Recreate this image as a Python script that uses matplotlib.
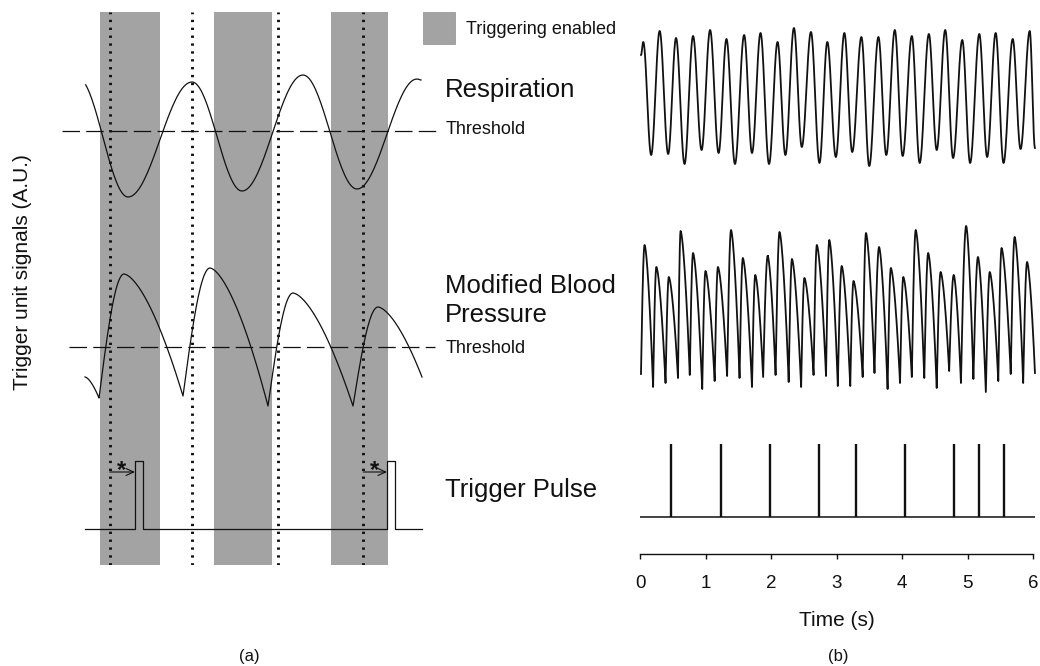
import numpy as np
import matplotlib.pyplot as plt
from matplotlib.patches import Rectangle

plt.rcParams['font.family'] = ['Liberation Sans', 'DejaVu Sans']

W, H = 1040, 666

# ---------------- panel (a): schematic (arbitrary time / amplitude units) ----
band_start = [0.153, 1.287, 2.46]
band_end = [0.747, 1.87, 3.027]
dotted_t = [0.247, 1.073, 1.93, 2.783]

# knots (extrema) of the respiration trace, first knot lies just before the drawn range
resp_a_t = [-0.07, 0.43, 1.07, 1.57, 2.18, 2.72, 3.32, 3.36]
resp_a_v = [5.3, -6.6, 4.9, -6.0, 5.6, -5.8, 5.2, 5.1]

bp_a_t = [0.0, 0.14, 0.39, 0.98, 1.25, 1.83, 2.08, 2.68, 2.93, 3.37]
bp_a_v = [-3.0, -5.1, 7.3, -4.9, 7.9, -5.9, 5.4, -5.9, 4.0, -3.0]

pulse_a_t = [0.50, 3.02]
pulse_a_w = 0.075
pulse_a_h = 6.8
trace_a_end = 3.37

# ---------------- panel (b): recorded signals, time in s ----------------------
resp_b_start = (0.015, 11.5)
resp_b_end = (6.03, 2.2)
resp_b_peak_t = [0.05, 0.30, 0.55, 0.81, 1.07, 1.32, 1.59, 1.84, 2.10, 2.35, 2.61, 2.86,
                 3.12, 3.38, 3.64, 3.89, 4.15, 4.41, 4.66, 4.92, 5.18, 5.43, 5.69, 5.95]
resp_b_peak_v = [12.8, 13.9, 13.2, 13.4, 14.0, 13.1, 13.5, 13.7, 12.8, 14.2, 13.8, 12.8,
                 13.7, 13.3, 13.3, 14.0, 13.4, 13.6, 14.0, 13.0, 13.6, 13.7, 13.1, 13.9]
resp_b_trough_t = [0.17, 0.43, 0.68, 0.94, 1.20, 1.45, 1.71, 1.97, 2.22, 2.47, 2.74, 2.99,
                   3.24, 3.50, 3.76, 4.01, 4.27, 4.53, 4.78, 5.04, 5.30, 5.55, 5.81]
resp_b_trough_v = [1.5, 1.6, 0.6, 2.0, 1.7, 0.6, 1.7, 0.6, 1.5, 2.3, 0.7, 1.3,
                   1.8, 0.4, 1.5, 1.4, 0.7, 2.0, 1.2, 0.7, 1.3, 0.7, 2.1]

bp_b_start = (0.015, 2.6)
bp_b_end = (6.03, 2.7)
bp_b_peak_t = [0.07, 0.25, 0.44, 0.62, 0.81, 1.00, 1.19, 1.39, 1.57, 1.76, 1.95, 2.13,
               2.32, 2.51, 2.70, 2.89, 3.08, 3.26, 3.45, 3.65, 3.83, 4.02, 4.21, 4.40,
               4.59, 4.79, 4.98, 5.16, 5.34, 5.52, 5.72, 5.91]
bp_b_peak_v = [15.5, 13.3, 12.3, 16.9, 14.7, 12.9, 13.3, 17.0, 14.2, 12.5, 14.4, 16.8,
               14.1, 12.2, 15.5, 16.0, 13.4, 11.9, 16.7, 15.3, 13.2, 12.3, 17.0, 14.7,
               12.8, 12.5, 17.4, 14.3, 12.8, 15.2, 16.3, 13.8]
bp_b_trough_t = [0.20, 0.39, 0.58, 0.76, 0.95, 1.14, 1.33, 1.52, 1.71, 1.88, 2.07, 2.27,
                 2.46, 2.65, 2.84, 3.02, 3.21, 3.40, 3.58, 3.78, 3.97, 4.15, 4.34, 4.53,
                 4.72, 4.90, 5.09, 5.28, 5.47, 5.66, 5.85]
bp_b_trough_v = [1.3, 1.7, 2.2, 2.5, 1.1, 1.9, 2.4, 2.2, 1.3, 2.3, 2.5, 1.8,
                 1.3, 2.5, 2.4, 1.4, 1.4, 2.3, 2.7, 1.1, 1.7, 2.3, 2.2, 1.2,
                 2.9, 1.7, 2.1, 0.8, 1.9, 2.6, 1.7]

trigger_b_t = [0.47, 1.23, 1.98, 2.73, 3.30, 4.05, 4.80, 5.17, 5.56]
time_ticks = [0, 1, 2, 3, 4, 5, 6]

band_color = '#a3a3a3'
ink = '#111111'


def wave(t, v, sharp_troughs=False, n=40):
    """Smooth curve through a list of extrema."""
    xs, ys = [], []
    for i in range(len(t) - 1):
        s = np.linspace(0, 1, n)
        d = v[i + 1] - v[i]
        if sharp_troughs:
            # slow rounded top, near-linear fall, steep rise
            f = s ** 1.6 if d < 0 else np.sin(np.pi / 2 * s)
        else:
            f = (1 - np.cos(np.pi * s)) / 2
        xs.append(t[i] + (t[i + 1] - t[i]) * s)
        ys.append(v[i] + d * f)
    return np.concatenate(xs), np.concatenate(ys)


def merge(start, end, pt, pv, tt, tv):
    knots = sorted([start, end] + list(zip(pt, pv)) + list(zip(tt, tv)))
    return [k[0] for k in knots], [k[1] for k in knots]


def box(x0, y0, x1, y1):
    return [x0 / W, 1 - y1 / H, (x1 - x0) / W, (y1 - y0) / H]


def ftext(x, y, s, **kw):
    fig.text(x / W, 1 - y / H, s, **kw)


fig = plt.figure(figsize=(W / 100, H / 100), dpi=100)

# ---------------- panel (a) ----------------
ax_a = fig.add_axes(box(62, 12, 440, 565))
ax_a.set_xlim(-0.23, 3.55)
ax_a.set_ylim(0, 55.3)
ax_a.axis('off')

resp_off, bp_off, trig_off = 43.4, 21.8, 3.6

for b0, b1 in zip(band_start, band_end):
    ax_a.axvspan(b0, b1, color=band_color, lw=0, zorder=0)
for t in dotted_t:
    ax_a.axvline(t, color=ink, lw=2.1, linestyle=(0, (0.8, 1.9)), zorder=2)

dash = (0, (14, 5))
ax_a.hlines(resp_off, -0.23, 3.55, color=ink, lw=0.9, linestyles=dash, zorder=3)
ax_a.hlines(bp_off, -0.16, 3.50, color=ink, lw=0.9, linestyles=dash, zorder=3)

x, y = wave(resp_a_t, resp_a_v)
keep = x >= 0
ax_a.plot(x[keep], y[keep] + resp_off, color=ink, lw=0.9, zorder=4)

x, y = wave(bp_a_t, bp_a_v, sharp_troughs=True)
ax_a.plot(x, y + bp_off, color=ink, lw=0.9, zorder=4)

px, py = [0.0], [trig_off]
for p in pulse_a_t:
    px += [p, p, p + pulse_a_w, p + pulse_a_w]
    py += [trig_off, trig_off + pulse_a_h, trig_off + pulse_a_h, trig_off]
px.append(trace_a_end)
py.append(trig_off)
ax_a.plot(px, py, color=ink, lw=0.9, zorder=4)

for d, p in zip([dotted_t[0], dotted_t[3]], pulse_a_t):
    ax_a.annotate('', xy=(p, 9.3), xytext=(d, 9.3),
                  arrowprops=dict(arrowstyle='->,head_length=0.55,head_width=0.25',
                                  lw=0.8, color=ink, shrinkA=0, shrinkB=0), zorder=5)
    ax_a.text((d + p) / 2 - 0.01, 8.8, '*', ha='center', va='baseline',
              fontsize=17, fontweight='bold', color=ink, zorder=5)

# legend patch
fig.add_artist(Rectangle((423 / W, 1 - 44 / H), 32 / W, 32 / H, transform=fig.transFigure,
                         facecolor=band_color, edgecolor='#8e8e8e', lw=0.5))
ftext(466, 34, 'Triggering enabled', fontsize=13, va='baseline', color=ink)

ftext(445, 96.7, 'Respiration', fontsize=18.5, va='baseline', color=ink)
ftext(446, 134, 'Threshold', fontsize=13, va='baseline', color=ink)
ftext(445, 293.3, 'Modified Blood', fontsize=18.5, va='baseline', color=ink)
ftext(445, 321.7, 'Pressure', fontsize=18.5, va='baseline', color=ink)
ftext(446, 353.3, 'Threshold', fontsize=13, va='baseline', color=ink)
ftext(445, 497, 'Trigger Pulse', fontsize=18.5, va='baseline', color=ink)

ftext(23, 272.5, 'Trigger unit signals (A.U.)', fontsize=15, rotation=90,
      ha='center', va='center', color=ink)
ftext(249, 657, '(a)', fontsize=12, ha='center', va='center', color=ink)

# ---------------- panel (b) ----------------
xmax_b = 6 * 400 / 393

ax_rb = fig.add_axes(box(640, 20, 1040, 170))
ax_rb.set_xlim(0, xmax_b)
ax_rb.set_ylim(0, 15)
ax_rb.axis('off')
kt, kv = merge(resp_b_start, resp_b_end, resp_b_peak_t, resp_b_peak_v,
               resp_b_trough_t, resp_b_trough_v)
x, y = wave(kt, kv)
ax_rb.plot(x, y, color=ink, lw=1.3)

ax_bb = fig.add_axes(box(640, 200, 1040, 400))
ax_bb.set_xlim(0, xmax_b)
ax_bb.set_ylim(0, 20)
ax_bb.axis('off')
kt, kv = merge(bp_b_start, bp_b_end, bp_b_peak_t, bp_b_peak_v,
               bp_b_trough_t, bp_b_trough_v)
x, y = wave(kt, kv, sharp_troughs=True)
ax_bb.plot(x, y, color=ink, lw=1.3)

ax_tb = fig.add_axes(box(640, 430, 1040, 554))
ax_tb.set_xlim(0, xmax_b)
ax_tb.set_ylim(0, 12.4)
ax_tb.hlines(3.7, 0, 6.03, color=ink, lw=1.1)
ax_tb.vlines(trigger_b_t, 3.7, 11.0, color=ink, lw=1.7)
for s in ['top', 'right', 'left']:
    ax_tb.spines[s].set_visible(False)
ax_tb.spines['bottom'].set_bounds(0, 6)
ax_tb.spines['bottom'].set_linewidth(1.0)
ax_tb.spines['bottom'].set_color(ink)
ax_tb.set_yticks([])
ax_tb.set_xticks(time_ticks)
ax_tb.set_xticklabels([str(t) for t in time_ticks])
ax_tb.tick_params(axis='x', direction='out', length=3.6, width=1.0, labelsize=13.5,
                  pad=11.5, colors=ink)
ax_tb.patch.set_visible(False)

ftext(837, 620, 'Time (s)', fontsize=15, ha='center', va='center', color=ink)
ftext(838, 657, '(b)', fontsize=12, ha='center', va='center', color=ink)

fig.savefig('out.png', dpi=100)
